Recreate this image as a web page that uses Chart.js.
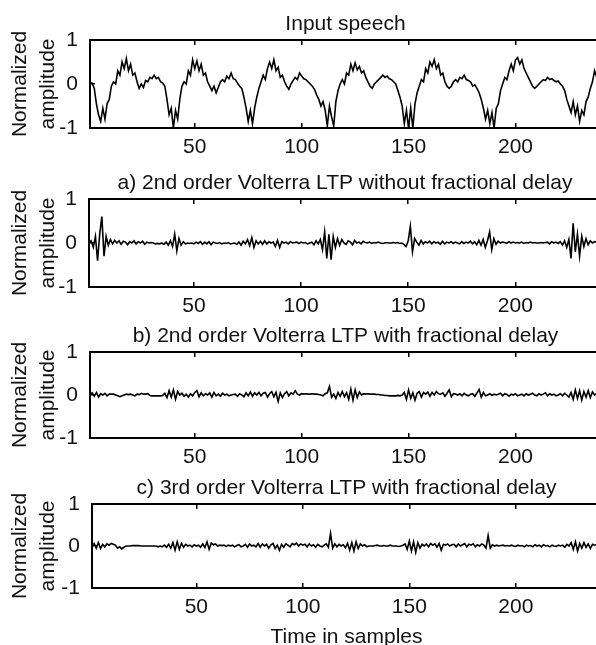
<!DOCTYPE html>
<html>
<head>
<meta charset="utf-8">
<script src="https://cdn.jsdelivr.net/npm/chart.js@4.4.1/dist/chart.umd.min.js"></script>
<style>
html, body { margin: 0; padding: 0; background: #fff; overflow: hidden; width: 596px; height: 645px; }
canvas { position: absolute; left: 0; }
</style>
</head>
<body>
<canvas id="c0"></canvas>
<canvas id="c1"></canvas>
<canvas id="c2"></canvas>
<canvas id="c3"></canvas>
<script>
// values, one per sample (1..240)
const speech = [
  0.02, 0.02, -0.1, -0.45, -0.7, -0.85, -0.55, -0.8, -0.45, -0.35,
  -0.05, 0.05, 0.0, 0.3, 0.2, 0.5, 0.35, 0.58, 0.3, 0.45,
  0.2, 0.25, 0.05, -0.1, 0.0, -0.08, 0.08, 0.05, 0.15, 0.12,
  0.2, 0.12, 0.15, 0.05, 0.02, -0.05, -0.35, -0.7, -0.55, -1.0,
  -0.6, -0.8, -0.35, -0.05, 0.05, 0.0, 0.3, 0.2, 0.55, 0.35,
  0.52, 0.3, 0.45, 0.2, 0.25, 0.05, -0.05, -0.15, -0.05, -0.2,
  -0.08, 0.05, 0.1, 0.05, 0.18, 0.12, 0.25, 0.12, 0.1, 0.02,
  -0.05, -0.1, -0.3, -0.55, -0.85, -0.6, -0.9, -0.55, -0.3, -0.1,
  0.05, 0.2, 0.1, 0.35, 0.5, 0.35, 0.55, 0.3, 0.38, 0.15,
  0.2, 0.05, -0.05, -0.12, 0.0, 0.08, 0.15, 0.1, 0.25, 0.18,
  0.12, 0.1, 0.05, 0.0, -0.05, -0.12, -0.25, -0.35, -0.5, -0.4,
  -0.6, -0.95, -0.5, -0.75, -0.95, -0.4, -0.15, 0.0, 0.1, 0.0,
  0.25, 0.2, 0.45, 0.3, 0.48, 0.32, 0.4, 0.25, 0.3, 0.15,
  0.05, -0.05, -0.1, 0.0, 0.05, 0.1, 0.15, 0.2, 0.15, 0.18,
  0.12, 0.1, 0.05, 0.0, -0.15, -0.3, -0.5, -0.9, -0.6, -1.0,
  -0.55, -1.0, -0.45, -0.2, -0.05, 0.1, 0.05, 0.35, 0.25, 0.5,
  0.4, 0.55, 0.35, 0.45, 0.2, 0.25, 0.05, -0.05, -0.1, -0.05,
  0.05, 0.1, 0.05, 0.15, 0.12, 0.2, 0.1, 0.08, 0.05, -0.05,
  -0.02, -0.1, -0.2, -0.35, -0.55, -0.8, -0.6, -0.9, -0.65, -1.0,
  -0.55, -0.45, -0.15, 0.0, 0.15, 0.1, 0.3, 0.45, 0.3, 0.55,
  0.6, 0.45, 0.55, 0.35, 0.25, 0.15, 0.05, -0.05, -0.1, -0.05,
  0.0, 0.05, 0.1, 0.08, 0.15, 0.1, 0.12, 0.08, 0.05, 0.07,
  0.0, -0.05, -0.15, -0.35, -0.5, -0.65, -0.4, -0.7, -0.5, -0.85,
  -0.6, -0.7, -0.4, -0.3, -0.1, 0.05, 0.3, 0.15, 0.45, 0.6
];

const residualA = [
  0.0, 0.05, -0.1, 0.15, -0.4, 0.2, 0.6, -0.3, 0.15, -0.05,
  0.08, -0.02, 0.06, 0.0, 0.05, -0.03, 0.04, 0.02, -0.04, 0.03,
  0.0, 0.05, -0.02, 0.03, 0.0, 0.04, -0.03, 0.02, 0.0, 0.01,
  0.0, -0.02, -0.01, -0.02, 0.0, -0.03, 0.02, -0.05, 0.05, -0.08,
  0.2, -0.18, 0.1, -0.05, 0.03, -0.02, 0.0, -0.01, 0.0, -0.02,
  0.02, -0.01, 0.03, -0.03, 0.02, -0.02, 0.03, -0.04, 0.02, 0.0,
  -0.01, 0.01, -0.02, 0.0, -0.01, 0.01, -0.02, -0.01, 0.0, -0.03,
  0.02, -0.05, 0.04, -0.02, 0.08, -0.06, 0.12, -0.1, 0.05, -0.02,
  0.04, -0.03, 0.05, -0.02, 0.03, 0.0, 0.02, -0.08, 0.06, -0.1,
  0.03, 0.0, 0.02, -0.02, 0.03, 0.0, 0.01, 0.02, -0.01, 0.02,
  0.0, 0.01, -0.02, 0.0, 0.02, -0.04, 0.05, -0.02, 0.08, -0.15,
  0.25, -0.35, 0.2, -0.38, 0.15, -0.1, 0.1, -0.05, 0.08, 0.0,
  -0.03, 0.05, 0.02, -0.04, 0.06, 0.0, 0.02, -0.02, 0.04, 0.01,
  0.0, 0.02, -0.01, 0.01, 0.0, 0.02, 0.0, -0.01, 0.0, 0.01,
  0.0, 0.0, 0.01, 0.0, 0.01, -0.01, 0.0, -0.03, -0.08, 0.05,
  0.38, -0.2, 0.1, 0.02, -0.05, 0.06, -0.02, 0.03, 0.0, 0.04,
  -0.02, 0.03, 0.0, 0.02, -0.03, 0.04, -0.02, 0.02, 0.0, 0.03,
  -0.01, 0.02, 0.0, -0.02, 0.03, -0.01, 0.02, 0.0, 0.04, -0.02,
  0.03, -0.04, 0.06, -0.05, 0.08, -0.1, 0.05, 0.25, -0.15, 0.1,
  -0.03, 0.04, 0.0, 0.02, 0.01, -0.01, 0.03, 0.0, 0.02, 0.0,
  0.01, 0.0, 0.02, -0.01, 0.01, 0.0, 0.02, 0.0, 0.01, 0.0,
  0.0, 0.01, 0.0, 0.01, 0.02, -0.02, 0.03, 0.0, 0.02, -0.01,
  0.03, -0.05, 0.05, -0.1, 0.08, -0.35, 0.45, -0.2, 0.2, -0.3,
  0.15, -0.08, 0.1, -0.04, 0.05, 0.0, 0.03, 0.02, 0.05, 0.03
];

const residualB = [
  0.0, 0.05, -0.03, 0.06, -0.05, 0.03, 0.0, 0.04, -0.02, 0.02,
  0.02, 0.02, 0.0, -0.02, -0.04, -0.02, 0.0, 0.02, 0.01, 0.02,
  0.0, -0.02, 0.02, 0.01, 0.04, 0.02, 0.02, 0.03, -0.01, -0.02,
  -0.02, -0.02, -0.02, -0.02, -0.01, 0.04, -0.06, 0.1, -0.05, 0.12,
  -0.1, 0.08, 0.0, 0.04, -0.03, 0.02, -0.05, 0.03, -0.02, 0.06,
  0.1, -0.04, 0.05, -0.02, 0.03, 0.0, 0.05, -0.05, 0.06, -0.02,
  0.02, -0.03, 0.04, 0.0, 0.02, -0.02, 0.0, 0.01, 0.02, -0.03,
  0.03, 0.0, -0.04, 0.05, -0.02, 0.07, -0.03, 0.05, 0.0, 0.06,
  -0.02, 0.04, 0.06, -0.05, 0.03, 0.08, -0.04, 0.06, -0.15, 0.05,
  -0.06, 0.03, 0.08, -0.02, 0.05, 0.02, 0.1, 0.02, 0.0, 0.03,
  0.02, 0.03, 0.02, 0.02, 0.03, 0.02, 0.02, 0.01, 0.0, -0.02,
  0.03, 0.05, 0.2, -0.05, 0.02, -0.08, 0.06, -0.03, 0.08, -0.04,
  0.05, -0.1, 0.14, -0.12, 0.12, -0.06, 0.07, 0.0, 0.03, 0.02,
  0.03, 0.02, 0.02, 0.02, 0.01, 0.01, 0.0, 0.0, -0.01, -0.01,
  -0.02, -0.02, -0.02, -0.02, -0.01, -0.02, 0.0, 0.06, -0.1, 0.12,
  -0.08, 0.05, -0.12, 0.04, 0.08, -0.05, 0.06, 0.02, 0.07, -0.03,
  0.06, 0.0, 0.08, 0.03, 0.02, 0.05, -0.03, 0.04, 0.12, -0.04,
  0.03, 0.02, 0.0, 0.03, -0.02, 0.04, 0.0, -0.02, 0.02, 0.03,
  -0.03, 0.05, 0.13, -0.05, 0.06, -0.02, 0.0, 0.03, -0.01, 0.02,
  0.0, 0.02, 0.04, -0.02, 0.03, 0.01, -0.03, 0.02, 0.0, 0.03,
  -0.02, 0.0, 0.02, -0.02, 0.03, 0.0, 0.02, 0.04, 0.0, -0.02,
  0.03, 0.0, 0.02, 0.05, -0.02, 0.03, 0.0, 0.02, -0.02, 0.0,
  0.03, -0.02, 0.04, 0.0, -0.05, 0.06, -0.1, 0.12, -0.08, 0.1,
  -0.12, 0.08, -0.05, 0.1, -0.06, 0.07, 0.0, 0.03, 0.05, 0.03
];

const residualC = [
  0.0, 0.06, -0.05, 0.08, -0.06, 0.04, -0.02, 0.05, 0.02, 0.06,
  0.04, 0.02, -0.05, -0.02, -0.07, -0.03, 0.0, 0.0, 0.0, 0.01,
  0.01, 0.01, 0.01, 0.0, 0.0, 0.0, 0.0, 0.0, 0.0, 0.0,
  0.0, -0.02, 0.0, -0.02, 0.02, -0.03, 0.04, -0.05, 0.08, -0.1,
  0.1, -0.08, 0.06, -0.03, 0.04, 0.0, 0.02, -0.02, 0.03, 0.0,
  0.02, -0.03, 0.05, -0.04, 0.1, -0.08, 0.07, 0.03, 0.05, 0.0,
  0.02, 0.01, 0.02, -0.01, 0.02, 0.0, 0.02, -0.02, 0.01, 0.03,
  -0.02, 0.0, 0.04, -0.03, 0.05, 0.0, 0.02, -0.02, 0.06, -0.03,
  0.05, 0.0, 0.04, -0.05, 0.03, 0.06, -0.06, 0.02, -0.1, 0.04,
  -0.03, 0.05, 0.02, -0.02, 0.06, 0.03, 0.07, 0.0, 0.05, 0.02,
  0.04, -0.02, 0.05, 0.0, 0.03, -0.03, 0.04, 0.0, -0.02, 0.02,
  0.05, -0.03, 0.3, -0.05, 0.05, -0.02, 0.04, 0.0, 0.03, -0.04,
  0.06, -0.1, 0.08, -0.12, 0.1, -0.06, 0.05, 0.0, 0.03, -0.02,
  0.0, 0.0, 0.0, 0.01, 0.02, 0.0, 0.0, 0.01, 0.0, 0.0,
  0.02, 0.0, 0.0, 0.0, -0.01, 0.0, 0.02, 0.05, -0.08, 0.12,
  -0.12, 0.1, -0.15, 0.08, -0.05, 0.04, 0.0, 0.05, -0.02, 0.06,
  0.02, 0.05, -0.03, 0.06, -0.1, 0.04, 0.02, 0.05, 0.0, 0.03,
  0.04, -0.02, 0.05, 0.0, 0.03, 0.06, -0.02, 0.04, 0.02, 0.05,
  -0.02, 0.03, 0.0, 0.05, 0.02, -0.05, 0.25, -0.05, 0.03, 0.0,
  0.02, 0.0, 0.01, 0.02, 0.0, 0.01, 0.0, 0.02, 0.0, -0.01,
  0.02, 0.0, 0.01, -0.02, 0.02, 0.0, 0.01, -0.02, 0.03, 0.0,
  0.02, -0.02, 0.03, 0.0, 0.01, -0.02, 0.02, 0.0, -0.01, 0.02,
  0.0, 0.02, -0.03, 0.04, 0.0, 0.08, -0.08, 0.1, -0.12, 0.06,
  -0.05, 0.08, -0.03, 0.05, -0.06, 0.04, 0.02, 0.03, 0.05, 0.02
];

const panelTitles = [
  'Input speech',
  'a) 2nd order Volterra LTP without fractional delay',
  'b) 2nd order Volterra LTP with fractional delay',
  'c) 3rd order Volterra LTP with fractional delay'
];
const xTickValues = [50, 100, 150, 200];
const yTickValues = [-1, 0, 1];
const yAxisTitle = ['Normalized', 'amplitude'];
const xAxisTitle = 'Time in samples';

const FONT = "Arial, 'Liberation Sans', sans-serif";
const INK = '#111';
Chart.defaults.font.family = FONT;
Chart.defaults.color = INK;

// pixel box of each axes in the reference
const boxes = [
  { top: 40, bottom: 128, left: 90 },
  { top: 199, bottom: 287, left: 89 },
  { top: 352, bottom: 438, left: 90 },
  { top: 504, bottom: 588, left: 92 }
];

function tickGrid() {
    return { drawOnChartArea: false, drawTicks: true, tickLength: -5, color: '#000', lineWidth: 1.5 };
}

function makePanel(canvasId, values, title, box, withXTitle) {
    const canvas = document.getElementById(canvasId);
    const top = box.top - 32;
    const bottom = withXTitle ? 660 : box.bottom + 34;
    canvas.width = 601;
    canvas.height = bottom - top;
    canvas.style.top = top + 'px';

    const points = values.map((v, i) => ({ x: i + 1, y: v }));

    new Chart(canvas, {
        type: 'line',
        data: {
            datasets: [{
                data: points,
                borderColor: '#000',
                borderWidth: 1.6,
                pointRadius: 0,
                tension: 0,
                fill: false
            }]
        },
        options: {
            responsive: false,
            animation: false,
            events: [],
            layout: { padding: 0 },
            plugins: {
                legend: { display: false },
                tooltip: { enabled: false },
                title: {
                    display: true,
                    text: title,
                    fullSize: false,
                    color: INK,
                    font: { size: 21, weight: 'normal', lineHeight: 1.2 },
                    padding: { top: 4, bottom: 2.8 }
                }
            },
            scales: {
                x: {
                    type: 'linear',
                    position: 'bottom',
                    min: 1,
                    max: 240,
                    afterBuildTicks: s => { s.ticks = xTickValues.map(v => ({ value: v })); },
                    afterFit: s => { s.height = bottom - box.bottom; },
                    grid: tickGrid(),
                    border: { display: true, color: '#000', width: 2 },
                    ticks: { padding: 12, maxRotation: 0, color: INK, font: { size: 21 } },
                    title: {
                        display: withXTitle,
                        text: xAxisTitle,
                        color: INK,
                        font: { size: 21, lineHeight: 1.2 },
                        padding: { top: 0, bottom: 10 }
                    }
                },
                x2: {
                    type: 'linear',
                    position: 'top',
                    min: 1,
                    max: 240,
                    afterBuildTicks: s => { s.ticks = xTickValues.map(v => ({ value: v })); },
                    afterFit: s => { s.height = 0; },
                    grid: tickGrid(),
                    border: { display: true, color: '#000', width: 2 },
                    ticks: { display: false }
                },
                y: {
                    type: 'linear',
                    position: 'left',
                    min: -1,
                    max: 1,
                    afterBuildTicks: s => { s.ticks = yTickValues.map(v => ({ value: v })); },
                    afterFit: s => { s.width = box.left; },
                    grid: tickGrid(),
                    border: { display: true, color: '#000', width: 2 },
                    ticks: { padding: 17, color: INK, font: { size: 21 } },
                    title: {
                        display: true,
                        text: yAxisTitle,
                        color: INK,
                        font: { size: 21, lineHeight: 1.35 },
                        padding: { top: 6, bottom: 0 }
                    }
                }
            }
        }
    });
}

makePanel('c0', speech, panelTitles[0], boxes[0], false);
makePanel('c1', residualA, panelTitles[1], boxes[1], false);
makePanel('c2', residualB, panelTitles[2], boxes[2], false);
makePanel('c3', residualC, panelTitles[3], boxes[3], true);
</script>
</body>
</html>
